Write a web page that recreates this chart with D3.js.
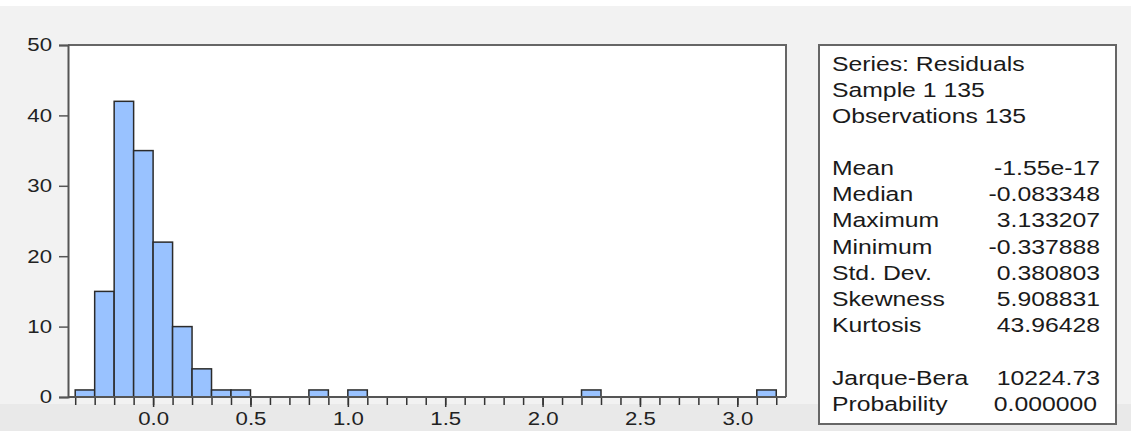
<!DOCTYPE html>
<html><head><meta charset="utf-8">
<script src="https://cdn.jsdelivr.net/npm/d3@7"></script>
<style>html,body{margin:0;padding:0;background:#fff;}svg{display:block;font-family:"Liberation Sans",Arial,sans-serif;}</style>
</head><body>
<svg id="c" width="1131" height="431"></svg>
<script>
// Histogram bins (lower edge) and counts
const binStarts = [-0.4,-0.3,-0.2,-0.1,0.0,0.1,0.2,0.3,0.4,0.8,1.0,2.2,3.1];
const binWidth = 0.1;
const counts = [1,15,42,35,22,10,4,1,1,1,1,1,1];
const xTickLabels = ["0.0","0.5","1.0","1.5","2.0","2.5","3.0"];
const yTicks = [0,10,20,30,40,50];
const statNames = ["Mean","Median","Maximum","Minimum","Std. Dev.","Skewness","Kurtosis"];
const statValues = ["-1.55e-17","-0.083348","3.133207","-0.337888","0.380803","5.908831","43.96428"];
const headerLines = ["Series: Residuals","Sample 1 135","Observations 135"];
const testNames = ["Jarque-Bera","Probability"];
const testValues = ["10224.73","0.000000"];

const svg = d3.select("#c");
svg.append("rect").attr("x",0).attr("y",0).attr("width",1131).attr("height",431).attr("fill","#fff");
svg.append("rect").attr("x",0).attr("y",6).attr("width",1131).attr("height",425).attr("fill","#f2f2f2");
svg.append("rect").attr("x",0).attr("y",404).attr("width",1131).attr("height",27).attr("fill","#e9e9e9");

const L = 68, R = 786, T = 45, B = 397;
const x = d3.scaleLinear().domain([-0.437, 3.25]).range([L, R]);
const y = d3.scaleLinear().domain([0, 50]).range([B, T]);
const SX = 1.2; // horizontal text stretch seen in the reference

svg.append("rect").attr("x",L).attr("y",T).attr("width",R-L).attr("height",B-T).attr("fill","#fff");

svg.append("g").selectAll("rect").data(binStarts.map((s,i)=>({s,c:counts[i]}))).join("rect")
  .attr("x",d=>x(d.s)).attr("width",d=>x(d.s+binWidth)-x(d.s))
  .attr("y",d=>y(d.c)).attr("height",d=>y(0)-y(d.c))
  .attr("fill","#99c2ff").attr("stroke","#2b2b2b").attr("stroke-width",1.5);

svg.append("path").attr("d",`M${L},${T}H${R}V${B}`).attr("fill","none").attr("stroke","#666").attr("stroke-width",2);

const yAxis = d3.axisLeft(y).tickValues(yTicks).tickSize(9).tickPadding(6).tickFormat(d3.format("d"));
const gy = svg.append("g").attr("transform",`translate(${L},0)`).call(yAxis);
gy.select(".domain").attr("stroke","#555").attr("stroke-width",2);
gy.selectAll(".tick line").attr("stroke","#555").attr("stroke-width",1.5);
gy.selectAll("text").attr("font-size",18.5).attr("fill","#222").attr("font-family","'Liberation Sans',Arial,sans-serif")
  .attr("x",-16/SX).attr("transform",`scale(${SX},1)`);

const minor = d3.range(-4, 33).map(i=>i/10);
const major = xTickLabels.map(Number);
const gxMinor = svg.append("g").attr("transform",`translate(0,${B})`)
  .call(d3.axisBottom(x).tickValues(minor).tickSize(8).tickFormat(""));
gxMinor.select(".domain").remove();
gxMinor.selectAll(".tick line").attr("stroke","#333").attr("stroke-width",1.5);
const gx = svg.append("g").attr("transform",`translate(0,${B})`)
  .call(d3.axisBottom(x).tickValues(major).tickSize(10).tickPadding(5).tickFormat((d,i)=>xTickLabels[i]));
gx.select(".domain").remove();
gx.selectAll(".tick line").attr("stroke","#333").attr("stroke-width",1.5);
gx.selectAll("text").attr("font-size",18.5).attr("fill","#222").attr("font-family","'Liberation Sans',Arial,sans-serif")
  .attr("transform",`scale(${SX},1)`);
svg.append("line").attr("x1",L).attr("x2",R).attr("y1",B).attr("y2",B).attr("stroke","#555").attr("stroke-width",2);

// stats box
svg.append("rect").attr("x",819).attr("y",45).attr("width",297).attr("height",379)
  .attr("fill","#fff").attr("stroke","#666").attr("stroke-width",2);
const tx = 832, vx = 1100, fs = 19.5, lh = 26.2, TS = 1.27;
const st = svg.append("g").attr("font-size",fs).attr("fill","#1a1a1a");
function put(t, px, py, anchor){
  st.append("text").attr("transform",`translate(${px},${py}) scale(${TS},1)`)
    .attr("text-anchor",anchor||"start").text(t);
}
headerLines.forEach((t,i)=>put(t, tx, 71+i*lh));
statNames.forEach((t,i)=>{
  put(t, tx, 175+i*lh);
  put(statValues[i], vx, 175+i*lh, "end");
});
testNames.forEach((t,i)=>{
  put(t, tx, 385+i*lh);
  put(testValues[i], i===1?vx-3:vx, 385+i*lh, "end");
});
</script>
</body></html>
